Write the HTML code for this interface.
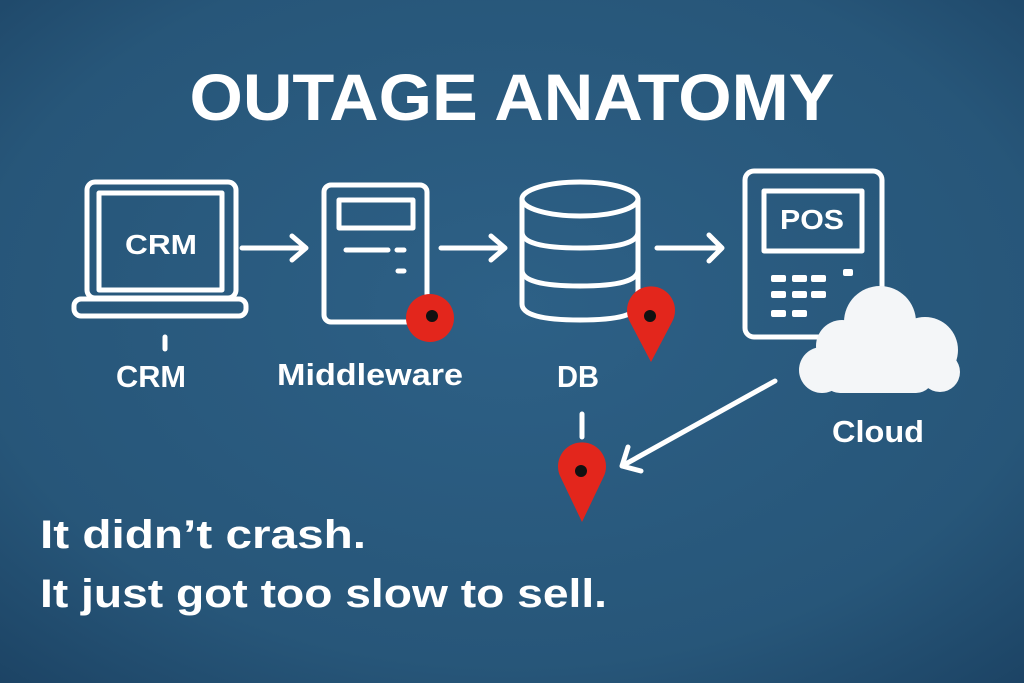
<!DOCTYPE html>
<html><head><meta charset="utf-8"><style>
html,body{margin:0;padding:0;width:1024px;height:683px;overflow:hidden}
svg{display:block}
text{font-family:"Liberation Sans",sans-serif;font-weight:bold;fill:#fff}
</style></head><body>
<svg width="1024" height="683" viewBox="0 0 1024 683">
<defs>
<radialGradient id="bg" cx="50%" cy="45%" r="75%">
<stop offset="0" stop-color="#2d6086"/><stop offset="0.7" stop-color="#275679"/><stop offset="1" stop-color="#1c4364"/>
</radialGradient>
</defs>
<rect width="1024" height="683" fill="url(#bg)"/>
<text x="512" y="120" font-size="66" text-anchor="middle" textLength="645" lengthAdjust="spacingAndGlyphs">OUTAGE ANATOMY</text>
<g fill="none" stroke="#fff" stroke-width="5" stroke-linecap="round" stroke-linejoin="round">
<rect x="87" y="182" width="149" height="116" rx="8"/>
<rect x="99" y="193" width="123" height="97"/>
<rect x="74" y="299" width="172" height="17" rx="7"/>
<line x1="165" y1="337" x2="165" y2="349"/>
<path d="M242 248 H306 M292 236 L306 248 L292 260"/>
<rect x="324" y="185" width="103" height="137" rx="7"/>
<rect x="339" y="200" width="74" height="28"/>
<path d="M346 250 H388 M397 250 H404 M398 271 H404"/>
<path d="M441 248 H505 M491 236 L505 248 L491 260"/>
<ellipse cx="580" cy="199" rx="58" ry="17"/>
<path d="M522 199 V304 Q522 320 580 320 Q638 320 638 304 V199"/>
<path d="M522 232 Q522 248 580 248 Q638 248 638 232 M522 270 Q522 286 580 286 Q638 286 638 270"/>
<line x1="582" y1="414" x2="582" y2="437"/>
<path d="M657 248 H722 M709 235 L722 248 L709 261"/>
<rect x="745" y="171" width="137" height="166" rx="9"/>
<rect x="764" y="191" width="98" height="60"/>
<path d="M775 381 L622 466 M628 447 L622 466 L641 471"/>
</g>
<g fill="#fff">
<rect x="771" y="275" width="15" height="7" rx="2"/><rect x="792" y="275" width="15" height="7" rx="2"/><rect x="811" y="275" width="15" height="7" rx="2"/>
<rect x="771" y="291" width="15" height="7" rx="2"/><rect x="792" y="291" width="15" height="7" rx="2"/><rect x="811" y="291" width="15" height="7" rx="2"/>
<rect x="771" y="310" width="15" height="7" rx="2"/><rect x="792" y="310" width="15" height="7" rx="2"/>
<rect x="843" y="269" width="10" height="7" rx="2"/>
</g>
<g fill="#f4f6f8">
<circle cx="880" cy="322" r="36"/>
<circle cx="842" cy="346" r="26"/>
<circle cx="925" cy="350" r="33"/>
<circle cx="822" cy="370" r="23"/>
<rect x="822" y="350" width="112" height="43" rx="18"/>
<circle cx="940" cy="372" r="20"/>
</g>
<circle cx="430" cy="318" r="24" fill="#e3261c"/>
<circle cx="432" cy="316" r="6" fill="#111"/>
<path fill="#e3261c" d="M651 362 L630 322 A24 24 0 1 1 672 322 Z"/>
<circle cx="650" cy="316" r="6" fill="#111"/>
<path fill="#e3261c" d="M582 522 L561 478 A24 24 0 1 1 603 478 Z"/>
<circle cx="581" cy="471" r="6" fill="#111"/>
<text x="161" y="254" font-size="28" text-anchor="middle" textLength="72" lengthAdjust="spacingAndGlyphs">CRM</text>
<text x="812" y="229" font-size="28" text-anchor="middle" textLength="64" lengthAdjust="spacingAndGlyphs">POS</text>
<text x="151" y="387" font-size="31" text-anchor="middle" textLength="70" lengthAdjust="spacingAndGlyphs">CRM</text>
<text x="370" y="385" font-size="31" text-anchor="middle" textLength="186" lengthAdjust="spacingAndGlyphs">Middleware</text>
<text x="578" y="387" font-size="31" text-anchor="middle" textLength="42" lengthAdjust="spacingAndGlyphs">DB</text>
<text x="878" y="442" font-size="31" text-anchor="middle" textLength="92" lengthAdjust="spacingAndGlyphs">Cloud</text>
<text x="40" y="548" font-size="40" textLength="326" lengthAdjust="spacingAndGlyphs">It didn’t crash.</text>
<text x="40" y="607" font-size="40" textLength="567" lengthAdjust="spacingAndGlyphs">It just got too slow to sell.</text>
</svg>
</body></html>
